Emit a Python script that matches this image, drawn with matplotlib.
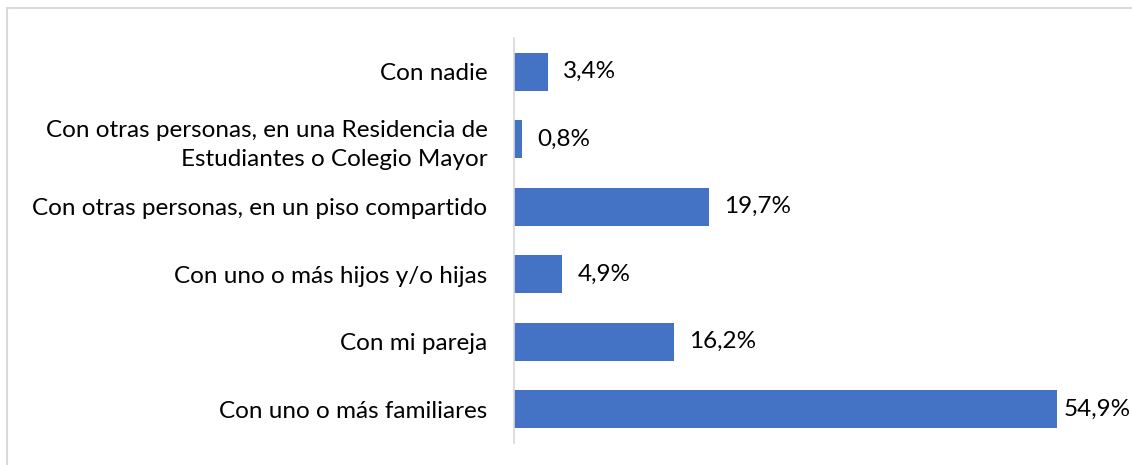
import matplotlib
matplotlib.use("Agg")
import matplotlib.pyplot as plt
from matplotlib.patches import Rectangle

categories = [
    "Con nadie",
    "Con otras personas, en una Residencia de\nEstudiantes o Colegio Mayor",
    "Con otras personas, en un piso compartido",
    "Con uno o más hijos y/o hijas",
    "Con mi pareja",
    "Con uno o más familiares",
]
values = [3.4, 0.8, 19.7, 4.9, 16.2, 54.9]
labels = ["3,4%", "0,8%", "19,7%", "4,9%", "16,2%", "54,9%"]

plt.rcParams['font.family'] = ['Lato', 'DejaVu Sans']

W, H = 1132, 465
fig = plt.figure(figsize=(W / 100, H / 100), dpi=100)
fig.patches.append(Rectangle((7 / W, -0.1), 1.2, (H - 8) / H + 0.1, transform=fig.transFigure,
                             fill=False, edgecolor='#d9d9d9', linewidth=1.5))

left, right, top, bottom = 514, 1107, 38, 443
ax = fig.add_axes([left / W, 1 - bottom / H, (right - left) / W, (bottom - top) / H])

y = list(range(len(categories)))
ax.barh(y, values, height=0.56, color='#4472C4')
ax.set_ylim(len(categories) - 0.5, -0.5)
ax.set_xlim(0, 60)
ax.set_yticks(y)
ax.set_yticklabels(categories, fontsize=17.5, color='#000000', ha='right', linespacing=1.45)
ax.tick_params(axis='y', length=0, pad=19)
ax.set_xticks([])
for s in ['top', 'right', 'bottom']:
    ax.spines[s].set_visible(False)
ax.spines['left'].set_color('#d9d9d9')
ax.spines['left'].set_linewidth(1.2)

vmax = max(values)
for yi, v, lab in zip(y, values, labels):
    off = 7 if v == vmax else 15
    ax.annotate(lab, (v, yi), xytext=(off, 0), textcoords='offset pixels',
                va='center', ha='left', fontsize=17.5, color='#000000')

fig.savefig("out.png", dpi=100)
